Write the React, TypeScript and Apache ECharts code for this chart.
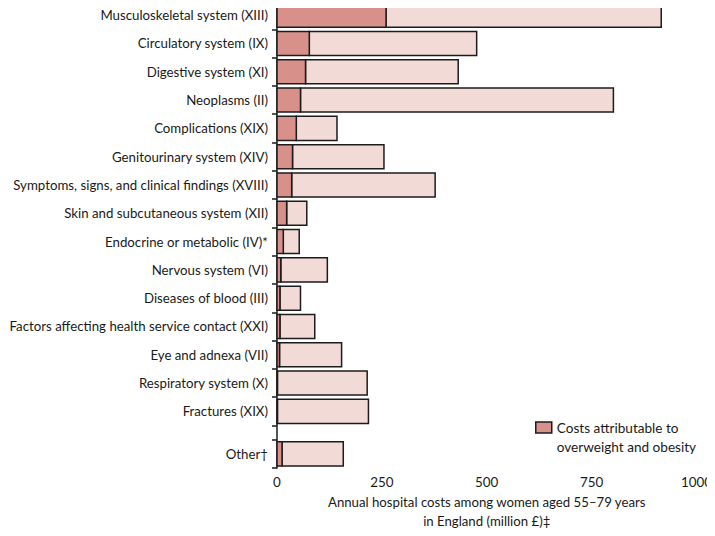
import React, { useEffect, useRef } from "react";
import * as echarts from "echarts";

const categories = [
  "Musculoskeletal system (XIII)",
  "Circulatory system (IX)",
  "Digestive system (XI)",
  "Neoplasms (II)",
  "Complications (XIX)",
  "Genitourinary system (XIV)",
  "Symptoms, signs, and clinical findings (XVIII)",
  "Skin and subcutaneous system (XII)",
  "Endocrine or metabolic (IV)*",
  "Nervous system (VI)",
  "Diseases of blood (III)",
  "Factors affecting health service contact (XXI)",
  "Eye and adnexa (VII)",
  "Respiratory system (X)",
  "Fractures (XIX)",
  "Other†",
];
const attributable = [260, 77, 68, 56, 46, 37, 35, 23, 15, 9, 7, 7, 6, 1, 1, 12];
const totals = [916, 476, 432, 802, 143, 255, 377, 71, 53, 120, 56, 90, 154, 215, 218, 158];
const xTicks = [0, 250, 500, 750, 1000];
const legendName = "Costs attributable to\noverweight and obesity";

const DARK = "#d8908a";
const LIGHT = "#f2dad6";
const EDGE = "#1c1c1c";
const TEXT = "#1a1a1a";
const FONT = "Lato";

// slot index positions on the y axis: main categories, then a half-slot gap before "Other"
const n = categories.length;
const slotPos = categories.map((_, i) => (i < n - 1 ? i + 0.5 : i + 1));
const tickPos = [...Array.from({ length: n }, (_, i) => i), n - 0.5, n + 0.5];

export default function App() {
  const ref = useRef<HTMLDivElement>(null);
  useEffect(() => {
    if (!ref.current) return;
    const chart = echarts.init(ref.current, null, { renderer: "svg" });
    const data = categories.map((c, i) => [slotPos[i], attributable[i], totals[i], c]);
    const renderItem = (params: any, api: any) => {
      const y = api.value(0);
      const a = api.value(1);
      const t = api.value(2);
      const p0 = api.coord([0, y]);
      const pa = api.coord([a, y]);
      const pt = api.coord([t, y]);
      const h = api.size([0, 0.85])[1];
      const top = p0[1] - h / 2;
      return {
        type: "group",
        children: [
          {
            type: "rect",
            shape: { x: pa[0], y: top, width: pt[0] - pa[0], height: h },
            style: { fill: LIGHT, stroke: EDGE, lineWidth: 1.5 },
          },
          {
            type: "rect",
            shape: { x: p0[0], y: top, width: pa[0] - p0[0], height: h },
            style: { fill: DARK, stroke: EDGE, lineWidth: 1.5 },
          },
        ],
      };
    };
    chart.setOption({
      animation: false,
      textStyle: { fontFamily: FONT },
      grid: { left: 277, right: 15, top: 1, bottom: 68, containLabel: false },
      legend: {
        left: 535,
        top: 399,
        padding: 0,
        orient: "vertical",
        itemWidth: 16,
        itemHeight: 11,
        icon: "rect",
        data: [legendName],
        formatter: (name: string) => " \n" + name,
        itemStyle: { color: DARK, borderColor: EDGE, borderWidth: 1.5 },
        textStyle: {
          fontFamily: FONT,
          fontSize: 13.6,
          color: TEXT,
          lineHeight: 19,
        },
      },
      xAxis: {
        type: "value",
        min: 0,
        max: 1000,
        interval: 250,
        splitLine: { show: false },
        axisLine: { show: true, lineStyle: { color: EDGE, width: 1.5 } },
        axisTick: { show: true, length: 5, inside: false, lineStyle: { color: EDGE, width: 1.5 } },
        axisLabel: {
          fontFamily: FONT,
          fontSize: 13.4,
          color: TEXT,
          margin: 7,
          formatter: (v: number) => (xTicks.includes(v) ? String(v) : ""),
        },
        name: "Annual hospital costs among women aged 55–79 years\nin England (million £)‡",
        nameLocation: "middle",
        nameGap: 23,
        nameTextStyle: {
          fontFamily: FONT,
          fontSize: 13.2,
          color: TEXT,
          lineHeight: 19,
          verticalAlign: "top",
        },
      },
      yAxis: {
        type: "value",
        inverse: true,
        min: 0,
        max: n + 0.5,
        splitLine: { show: false },
        axisLine: { show: true, lineStyle: { color: EDGE, width: 1.5 } },
        axisTick: {
          show: true,
          length: 5,
          inside: false,
          lineStyle: { color: EDGE, width: 1.5 },
          customValues: tickPos,
        },
        axisLabel: {
          fontFamily: FONT,
          fontSize: 13.25,
          color: TEXT,
          margin: 9,
          customValues: slotPos,
          formatter: (v: number) => {
            const idx = slotPos.findIndex((p) => Math.abs(p - v) < 1e-6);
            return idx >= 0 ? categories[idx] : "";
          },
        },
      },
      series: [
        {
          name: legendName,
          type: "custom",
          renderItem,
          itemStyle: { color: DARK, borderColor: EDGE, borderWidth: 1.5 },
          encode: { x: [1, 2], y: 0 },
          data,
        },
      ],
    });
    return () => chart.dispose();
  }, []);
  return <div ref={ref} style={{ width: 715, height: 536, margin: -8 }} />;
}
